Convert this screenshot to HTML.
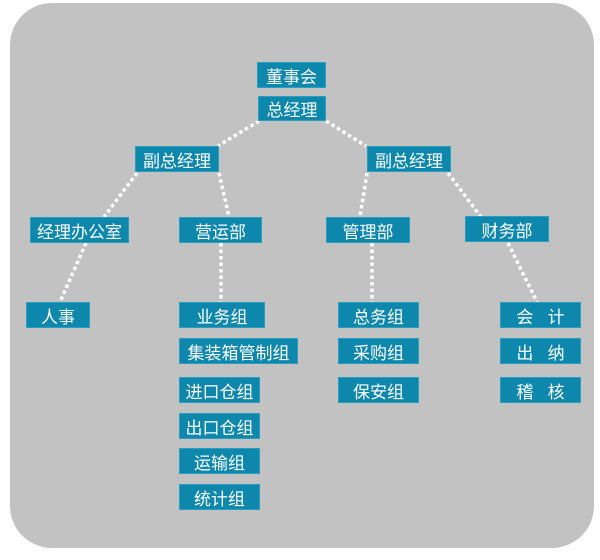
<!DOCTYPE html>
<html><head><meta charset="utf-8"><style>
body{margin:0;width:600px;height:560px;background:#fff;position:relative;overflow:hidden;font-family:"Liberation Sans","Noto Sans CJK SC",sans-serif}
.bg{position:absolute;left:10px;top:3px;width:584px;height:545px;background:#c2c2c2;border-radius:42px}
.b{position:absolute;background:#0d87ab;color:#fff;font-size:17px;display:flex;align-items:center;justify-content:center;border:1px solid #2a9ec0;box-sizing:border-box;white-space:pre}
svg{position:absolute;left:0;top:0}
</style></head><body>
<div class="bg"></div>
<svg width="600" height="560"><g stroke="#fff" stroke-width="3.5" stroke-dasharray="3.5 3" fill="none">
<line x1="259" y1="121" x2="218" y2="146"/><line x1="326" y1="121" x2="366" y2="146"/>
<line x1="137" y1="173" x2="104" y2="217"/><line x1="86" y1="243" x2="60" y2="302"/>
<line x1="219" y1="173" x2="229" y2="217"/><line x1="221" y1="243" x2="221" y2="302"/>
<line x1="367" y1="173" x2="360" y2="217"/><line x1="372" y1="243" x2="372" y2="302"/>
<line x1="448" y1="173" x2="481" y2="217"/><line x1="508" y1="243" x2="537" y2="302"/>
</g></svg>
<div class="b" style="left:257px;top:62px;width:69px;height:26px">董事会</div>
<div class="b" style="left:258px;top:96px;width:68px;height:25px">总经理</div>
<div class="b" style="left:135px;top:146px;width:84px;height:26px">副总经理</div>
<div class="b" style="left:367px;top:146px;width:84px;height:26px">副总经理</div>
<div class="b" style="left:30px;top:217px;width:99px;height:26px">经理办公室</div>
<div class="b" style="left:179px;top:217px;width:83px;height:26px">营运部</div>
<div class="b" style="left:326px;top:217px;width:84px;height:26px">管理部</div>
<div class="b" style="left:465px;top:216px;width:84px;height:26px">财务部</div>
<div class="b" style="left:26px;top:302px;width:64px;height:26px">人事</div>
<div class="b" style="left:179px;top:302px;width:86px;height:26px">业务组</div>
<div class="b" style="left:179px;top:338px;width:119px;height:26px">集装箱管制组</div>
<div class="b" style="left:179px;top:377px;width:81px;height:26px">进口仓组</div>
<div class="b" style="left:179px;top:413px;width:81px;height:26px">出口仓组</div>
<div class="b" style="left:179px;top:448px;width:81px;height:26px">运输组</div>
<div class="b" style="left:179px;top:484px;width:81px;height:26px">统计组</div>
<div class="b" style="left:338px;top:302px;width:81px;height:26px">总务组</div>
<div class="b" style="left:338px;top:338px;width:81px;height:26px">采购组</div>
<div class="b" style="left:338px;top:377px;width:81px;height:26px">保安组</div>
<div class="b" style="left:500px;top:302px;width:81px;height:26px">会   计</div>
<div class="b" style="left:500px;top:338px;width:81px;height:26px">出   纳</div>
<div class="b" style="left:500px;top:377px;width:81px;height:26px">稽   核</div>
</body></html>
